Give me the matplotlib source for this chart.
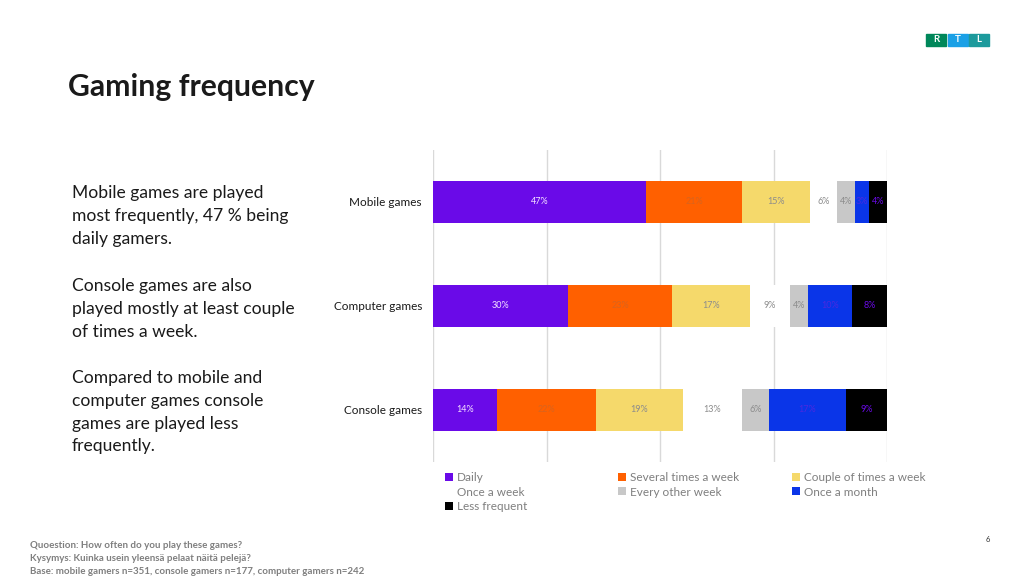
import matplotlib.pyplot as plt
from matplotlib.patches import Rectangle

plt.rcParams['font.family'] = ['Lato', 'DejaVu Sans']

categories = ["Mobile games", "Computer games", "Console games"]
series = ["Daily", "Several times a week", "Couple of times a week",
          "Once a week", "Every other week", "Once a month", "Less frequent"]
daily = [47, 29.8, 14]
several = [21, 22.8, 22]
couple = [15, 17.2, 19]
once_week = [6, 8.8, 13]
every_other = [4, 4.0, 6]
once_month = [3, 9.6, 17]
less_frequent = [4, 7.8, 9]
values = [daily, several, couple, once_week, every_other, once_month, less_frequent]

colors = ["#6A0AE8", "#FF6000", "#F5D96B", "#FFFFFF", "#C8C8C8", "#0A35E8", "#000000"]
label_colors = ["#F3E0FF", "#D8641E", "#8C8C8C", "#8C8C8C", "#8C8C8C", "#4A2AE0", "#6A0AE8"]

fig = plt.figure(figsize=(10.24, 5.76), dpi=100)
ax = fig.add_axes([433 / 1024, 1 - 462 / 576, 454 / 1024, 312 / 576])

y = list(range(len(categories)))
left = [0] * len(categories)
handles = []
for name, vals, col, lcol in zip(series, values, colors, label_colors):
    bars = ax.barh(y, vals, left=left, height=0.395, color=col, label=name, zorder=2)
    handles.append(bars)
    for yi, v, l in zip(y, vals, left):
        ax.text(l + v / 2, yi, f"{v:.0f}%", ha="center", va="center",
                fontsize=6.5, color=lcol, zorder=3)
    left = [a + b for a, b in zip(left, vals)]

ax.set_xlim(0, 100)
ax.set_ylim(2.5, -0.5)
ax.set_xticks([0, 25, 50, 75, 100])
ax.set_xticklabels([])
ax.grid(axis="x", color="#D9D9D9", linewidth=1, zorder=0)
ax.set_yticks(y)
ax.set_yticklabels(categories, fontsize=8.5, color="#1A1A1A")
ax.tick_params(length=0, pad=8)
for s in ax.spines.values():
    s.set_visible(False)

# legend: three separate columns so they sit evenly spaced
columns = [[0, 3, 6], [1, 4], [2, 5]]
col_x = [445, 618, 792]
for idx, cx in zip(columns, col_x):
    leg = fig.legend([handles[i] for i in idx], [series[i] for i in idx],
                     loc="upper left", bbox_to_anchor=(cx / 1024, 1 - 472 / 576),
                     frameon=False, fontsize=8.5, handlelength=0.65, handleheight=0.65,
                     handletextpad=0.35, labelspacing=0.3,
                     borderpad=0, borderaxespad=0)
    for t in leg.get_texts():
        t.set_color("#7F7F7F")

fig.text(68 / 1024, 1 - 87 / 576, "Gaming frequency", fontsize=21.7, fontweight="bold",
         color="#1A1A1A", va="center")

paragraphs = [
    "Mobile games are played\nmost frequently, 47 % being\ndaily gamers.",
    "Console games are also\nplayed mostly at least couple\nof times a week.",
    "Compared to mobile and\ncomputer games console\ngames are played less\nfrequently.",
]
tops = [185, 278, 370]
for p, t in zip(paragraphs, tops):
    fig.text(72 / 1024, 1 - t / 576, p, fontsize=12.6, color="#1A1A1A",
             va="top", linespacing=1.52)

fig.text(30 / 1024, 1 - 541.5 / 576,
         "Quoestion: How often do you play these games?\n"
         "Kysymys: Kuinka usein yleensä pelaat näitä pelejä?\n"
         "Base: mobile gamers n=351, console gamers n=177, computer gamers n=242",
         fontsize=7, fontweight="bold", color="#7F7F7F", va="top", linespacing=1.5)

fig.text(988 / 1024, 1 - 540 / 576, "6", fontsize=5.5, color="#333333",
         ha="center", va="center")

# RTL logo
logo = [("R", 926, "#00875A"), ("T", 948, "#1AA0E6"), ("L", 969, "#1C9A9C")]
for letter, x0, c in logo:
    fig.patches.append(Rectangle((x0 / 1024, 1 - 46 / 576), 20 / 1024, 12 / 576,
                                 transform=fig.transFigure, color=c))
    fig.text((x0 + 10) / 1024, 1 - 40 / 576, letter, fontsize=7, fontweight="bold",
             color="white", ha="center", va="center")

fig.savefig("out.png", dpi=100)
